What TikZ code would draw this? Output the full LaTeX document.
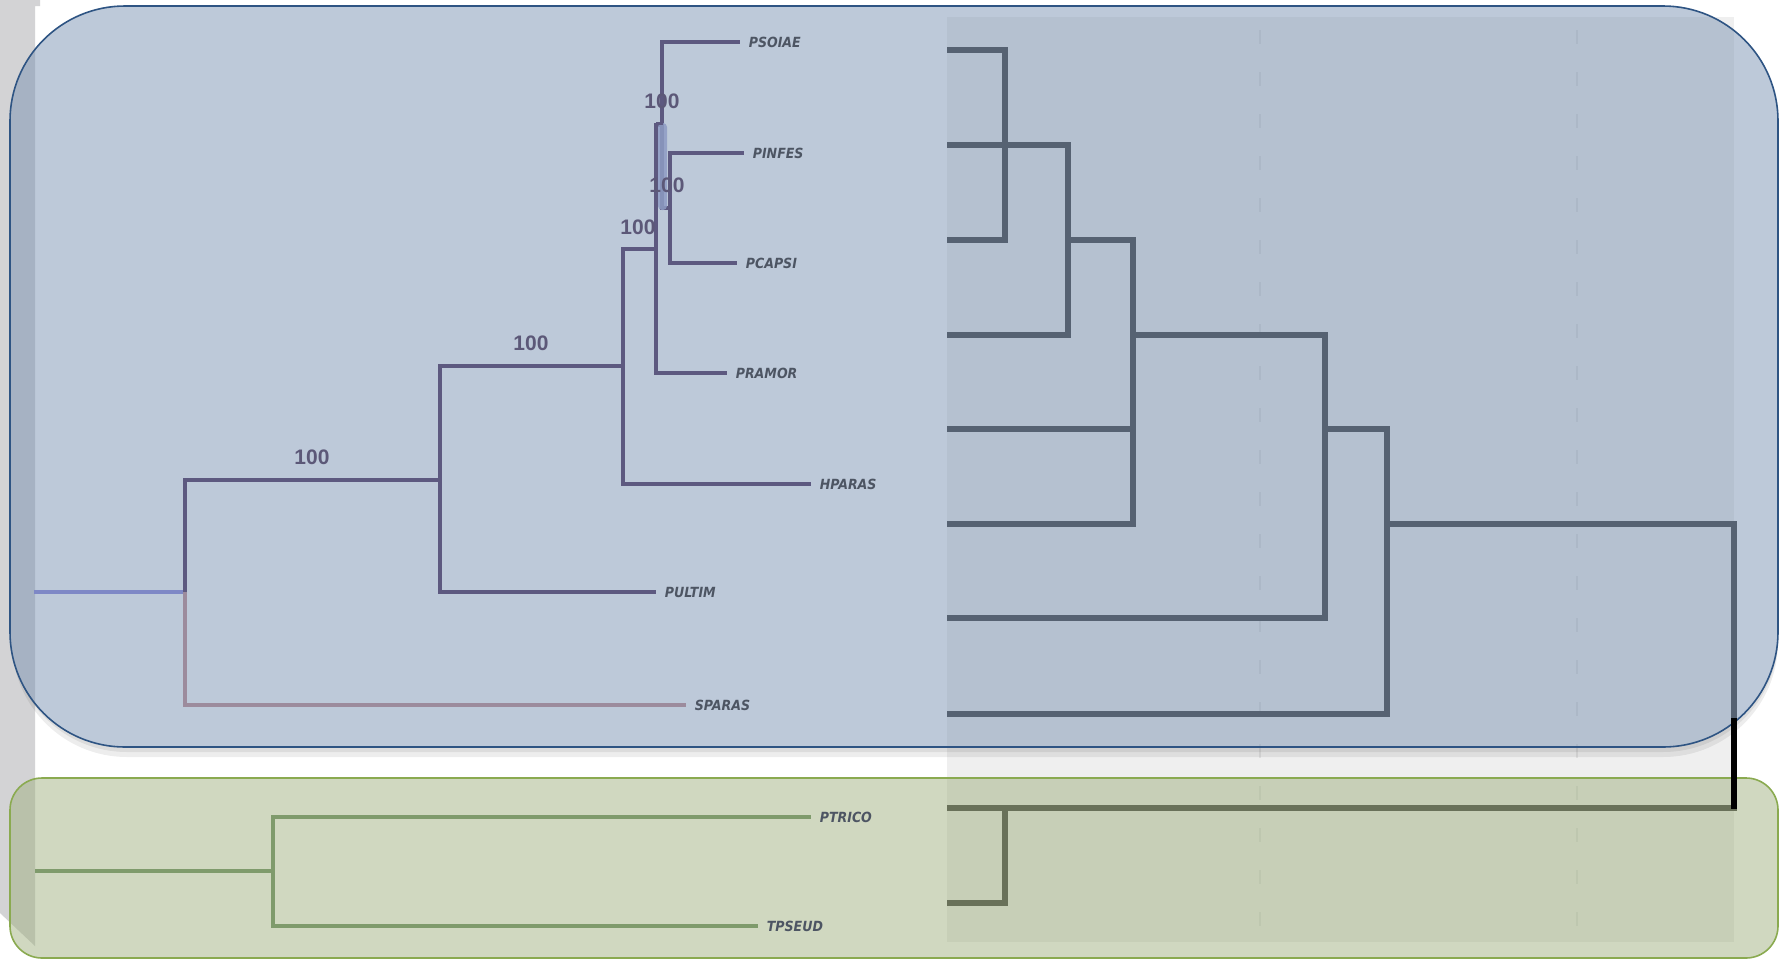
\documentclass[tikz,border=0pt]{standalone}
\usepackage{fontspec}
\newfontfamily\tipfont{DejaVu Sans Condensed}
\newfontfamily\bootfont{Liberation Sans}
\definecolor{stripgray}{HTML}{D3D3D5}
\definecolor{imgbg}{HTML}{EFEFEF}
\definecolor{dashgray}{HTML}{DEDEDE}
\definecolor{rtree}{HTML}{3A3A3A}
\definecolor{bluefill}{HTML}{768FB0}
\definecolor{blueedge}{HTML}{2E5483}
\definecolor{greenfill}{HTML}{9DAE7C}
\definecolor{greenedge}{HTML}{8AAA50}
\definecolor{ltree}{HTML}{5D5980}
\definecolor{rootblue}{HTML}{7E88C6}
\definecolor{mauve}{HTML}{9C8B9D}
\definecolor{gtree}{HTML}{7F9B6C}
\definecolor{tiptext}{HTML}{4D5563}
\definecolor{boottext}{HTML}{5C5878}
\definecolor{hilite}{HTML}{8E9CC4}
\tikzset{
  treeline/.style={draw=ltree, line width=2pt},
  rline/.style={draw=rtree, line width=2.6pt},
  gline/.style={draw=gtree, line width=2pt},
  tiplabel/.style={anchor=west, inner sep=0pt, xshift=4.2pt, text=tiptext,
     font=\tipfont\bfseries\itshape\fontsize{7}{7}\selectfont},
  boot/.style={inner sep=0pt, text=boottext, font=\bootfont\bfseries\fontsize{10.5}{11}\selectfont},
  bigbox/.style={rounded corners=57.5pt, fill=bluefill, fill opacity=0.48, draw=blueedge, line width=0.8pt},
  greenbox/.style={rounded corners=16pt, fill=greenfill, fill opacity=0.48, draw=greenedge, line width=0.8pt}
}
\begin{document}
\begin{tikzpicture}[x=0.5pt, y=-0.5pt]
\useasboundingbox[fill=white] (0,0) rectangle (1779,960);
% grey strip at left
\fill[stripgray] (0,0) -- (40,0) -- (40,6) -- (35,6) -- (35,946) -- (0,913) -- cycle;
% right image background
\fill[imgbg] (947,17) rectangle (1734,942);
% faint dashed guides
\draw[dashgray, line width=1.2pt, dash pattern=on 7pt off 14pt] (1260,30) -- (1260,935);
\draw[dashgray, line width=1.2pt, dash pattern=on 7pt off 14pt] (1577,30) -- (1577,935);
% right tree (under the boxes)
\begin{scope}[line join=miter]
\draw[rline] (947,50) -- (1005,50) -- (1005,240) -- (947,240);
\draw[rline] (947,145) -- (1068,145) -- (1068,335) -- (947,335);
\draw[rline] (1068,240) -- (1133,240) -- (1133,524) -- (947,524);
\draw[rline] (947,429) -- (1133,429);
\draw[rline] (1133,335) -- (1325,335) -- (1325,618) -- (947,618);
\draw[rline] (1325,429) -- (1387,429) -- (1387,714) -- (947,714);
\draw[rline] (1387,524) -- (1734,524) -- (1734,808) -- (947,808);
\draw[rline] (947,903) -- (1005,903) -- (1005,808);
\end{scope}
% soft shadow below the blue box, kept outside it
\begin{scope}[even odd rule, rounded corners=57.5pt]
\clip (-300,-300) rectangle (2100,1300) (10,6) rectangle (1778,747);
\fill[black, opacity=0.07] (12,9) rectangle (1778,757);
\fill[black, opacity=0.07] (12,8) rectangle (1778,752);
\end{scope}
% boxes
\draw[bigbox] (10,6) rectangle (1778,747);
\draw[greenbox] (10,778) rectangle (1778,958);
% black part of the root line outside the blue box
\coordinate (kTop) at (1734,718);
\coordinate (kBot) at (1734,809);
\draw[black, line width=2.6pt] (kTop) -- (kBot);

% ---------- left tree ----------
\coordinate (r0) at (34,592);
\coordinate (r) at (185,592);
\coordinate (E) at (440,480);
\coordinate (D) at (623,366);
\coordinate (A) at (656,249);
\coordinate (B) at (662,125);
\coordinate (C) at (670,208);
\coordinate (tPSOIAE) at (740,42);
\coordinate (tPINFES) at (744,153);
\coordinate (tPCAPSI) at (737,263);
\coordinate (tPRAMOR) at (727,373);
\coordinate (tHPARAS) at (811,484);
\coordinate (tPULTIM) at (656,592);
\coordinate (tSPARAS) at (686,705);

\draw[rootblue, line width=2pt] (r0) -- (r);
\draw[mauve, line width=2pt] (r) |- (tSPARAS);
\draw[treeline] (r) |- (E);
\draw[treeline] (E) |- (D);
\draw[treeline] (E) |- (tPULTIM);
\draw[treeline] (D) |- (A);
\draw[treeline] (D) |- (tHPARAS);
\draw[treeline] (A) |- (B);
\draw[treeline] (A) |- (tPRAMOR);
\draw[treeline] (B) |- (tPSOIAE);
\draw[treeline] (B) |- (C);
\draw[treeline] (C) |- (tPINFES);
\draw[treeline] (C) |- (tPCAPSI);
% highlight on the clade bar
\fill[hilite, opacity=0.85, rounded corners=2pt] (658,123) rectangle (667,210);
\draw[ltree, line width=1.5pt] (656,123) -- (663,123);

\node[tiplabel] (nPSOIAE) at (tPSOIAE) {PSOIAE};
\node[tiplabel] (nPINFES) at (tPINFES) {PINFES};
\node[tiplabel] (nPCAPSI) at (tPCAPSI) {PCAPSI};
\node[tiplabel] (nPRAMOR) at (tPRAMOR) {PRAMOR};
\node[tiplabel] (nHPARAS) at (tHPARAS) {HPARAS};
\node[tiplabel] (nPULTIM) at (tPULTIM) {PULTIM};
\node[tiplabel] (nSPARAS) at (tSPARAS) {SPARAS};

\node[boot] (bB) at (662,101) {100};
\node[boot] (bC) at (667,185) {100};
\node[boot] (bA) at (638,227) {100};
\node[boot] (bD) at (531,343) {100};
\node[boot] (bE) at (312,457) {100};

% ---------- green tree ----------
\coordinate (g0) at (35,871);
\coordinate (G) at (273,871);
\coordinate (tPTRICO) at (811,817);
\coordinate (tTPSEUD) at (758,926);
\draw[gline] (g0) -- (G);
\draw[gline] (G) |- (tPTRICO);
\draw[gline] (G) |- (tTPSEUD);
\node[tiplabel] (nPTRICO) at (tPTRICO) {PTRICO};
\node[tiplabel] (nTPSEUD) at (tTPSEUD) {TPSEUD};
\end{tikzpicture}
\end{document}
